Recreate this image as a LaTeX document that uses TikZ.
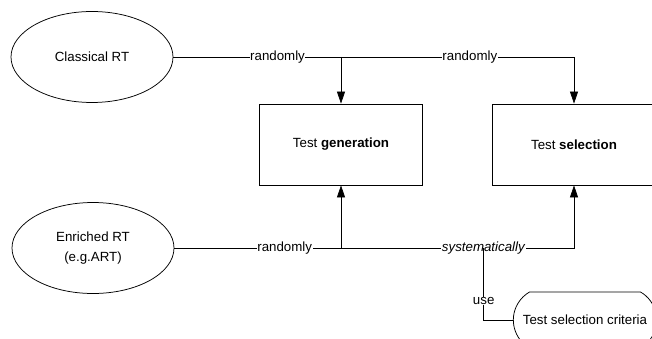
\documentclass[tikz,border=0pt]{standalone}
\usepackage{fontspec}
\setmainfont{Liberation Sans}
\usetikzlibrary{arrows.meta,shapes.geometric,shapes.misc}

\begin{document}
\begin{tikzpicture}[x=1pt,y=-1pt,line width=0.75pt,
  every node/.style={font=\fontsize{13.3}{20}\selectfont},
  method/.style={ellipse,draw,minimum width=162pt,minimum height=91pt,inner sep=0pt,align=center},
  activity/.style={rectangle,draw,minimum width=163pt,minimum height=81pt},
  criteria/.style={rounded rectangle,rounded rectangle arc length=120,draw,minimum width=150pt,minimum height=56pt},
  lbl/.style={fill=white,inner sep=0.5pt},
  flow/.style={-{Triangle[width=8pt,length=12pt]}}]

\clip (0,0) rectangle (652,339);

\node[method]   (CRT) at (92,57)     {Classical RT};
\node[method]   (ERT) at (93,248)    {Enriched RT\\(e.g.ART)};
\node[activity] (GEN) at (341,144.5) {Test \textbf{generation}};
\node[activity] (SEL) at (574,144.5) {Test \textbf{selection}};
\node[criteria] (TSC) at (585,320)   {Test selection criteria};

% random test cases feed both activities
\draw[flow] (CRT.east) -| node[lbl,pos=0.13] {randomly}
                          node[lbl,pos=0.37] {randomly} (SEL.north);
\draw[flow] (CRT.east -| GEN.north) -- (GEN.north);

\draw[flow] (ERT.east) -| node[lbl,pos=0.138] {randomly}
                          node[lbl,pos=0.387] (SYS) {\textit{systematically}} (SEL.south);
\draw[flow] (ERT.east -| GEN.south) -- (GEN.south);

% criteria hook
\draw (SYS.center) |- node[lbl,pos=0.37] {use} (TSC.west);

\end{tikzpicture}
\end{document}
